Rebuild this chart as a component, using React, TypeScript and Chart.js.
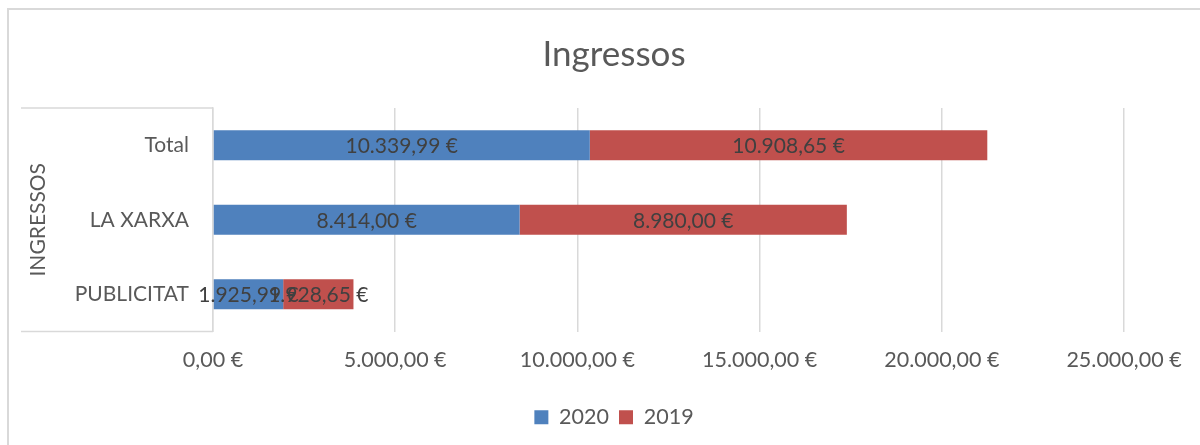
import React, { useEffect, useRef } from "react";
import { Chart, registerables } from "chart.js";

Chart.register(...registerables);

const categories = ["Total", "LA XARXA", "PUBLICITAT"];
const values2020 = [10339.99, 8414.0, 1925.99];
const values2019 = [10908.65, 8980.0, 1928.65];
const seriesLabels = ["2020", "2019"];
const xTicks = [0, 5000, 10000, 15000, 20000, 25000];
const groupLabel = "INGRESSOS";
const titleText = "Ingressos";

const FONT = "Lato, 'Open Sans', sans-serif";

function fmtEuro(v: number): string {
  const [i, d] = Math.abs(v).toFixed(2).split(".");
  const g = i.replace(/\B(?=(\d{3})+(?!\d))/g, ".");
  return (v < 0 ? "-" : "") + g + "," + d + " €";
}

const decorPlugin = {
  id: "decor",
  beforeDraw(chart: any) {
    const { ctx, chartArea } = chart;
    ctx.save();
    ctx.fillStyle = "#ffffff";
    ctx.fillRect(0, 0, chart.width, chart.height);
    ctx.strokeStyle = "#d9d9d9";
    ctx.lineWidth = 2;
    ctx.beginPath();
    ctx.moveTo(7, 9);
    ctx.lineTo(chart.width, 9);
    ctx.moveTo(8, 9);
    ctx.lineTo(8, chart.height);
    ctx.stroke();
    // group box
    ctx.lineWidth = 1.5;
    ctx.beginPath();
    ctx.moveTo(21, chartArea.top);
    ctx.lineTo(chartArea.left, chartArea.top);
    ctx.moveTo(21, chartArea.bottom);
    ctx.lineTo(chartArea.left, chartArea.bottom);
    ctx.stroke();
    ctx.restore();
  },
  afterDraw(chart: any) {
    const { ctx, chartArea } = chart;
    const yScale = chart.scales.y;
    ctx.save();
    ctx.fillStyle = "#595959";
    ctx.font = `21px ${FONT}`;
    ctx.textAlign = "right";
    ctx.textBaseline = "middle";
    chart.data.labels.forEach((lab: string, i: number) => {
      ctx.fillText(lab, chartArea.left - 24, yScale.getPixelForValue(i));
    });
    // rotated group label
    ctx.translate(38, (chartArea.top + chartArea.bottom) / 2);
    ctx.rotate(-Math.PI / 2);
    ctx.textAlign = "center";
    ctx.fillText(groupLabel, 0, 0);
    ctx.restore();
  },
};

const labelPlugin = {
  id: "barLabels",
  afterDatasetsDraw(chart: any) {
    const { ctx } = chart;
    ctx.save();
    ctx.font = `21px ${FONT}`;
    ctx.fillStyle = "#404040";
    ctx.textAlign = "center";
    ctx.textBaseline = "middle";
    chart.data.datasets.forEach((ds: any, di: number) => {
      const meta = chart.getDatasetMeta(di);
      meta.data.forEach((el: any, i: number) => {
        const x = (el.x + el.base) / 2;
        ctx.fillText(fmtEuro(ds.data[i]), x, el.y + 1);
      });
    });
    ctx.restore();
  },
};

export default function App() {
  const ref = useRef<HTMLCanvasElement | null>(null);
  useEffect(() => {
    if (!ref.current) return;
    const chart = new Chart(ref.current, {
      type: "bar",
      data: {
        labels: categories,
        datasets: [
          {
            label: seriesLabels[0],
            data: values2020,
            backgroundColor: "#4F81BD",
            barPercentage: 0.4,
            categoryPercentage: 1,
          },
          {
            label: seriesLabels[1],
            data: values2019,
            backgroundColor: "#C0504D",
            barPercentage: 0.4,
            categoryPercentage: 1,
          },
        ],
      },
      options: {
        indexAxis: "y",
        responsive: false,
        animation: false,
        layout: { padding: { left: 104, right: 76, top: 0, bottom: 7 } },
        scales: {
          x: {
            stacked: true,
            min: 0,
            max: 25000,
            afterBuildTicks: (scale: any) => {
              scale.ticks = xTicks.map((v) => ({ value: v }));
            },
            afterFit: (scale: any) => {
              scale.height = 65;
            },
            grid: { color: "#d9d9d9", lineWidth: 1.5, drawTicks: false },
            border: { display: false },
            ticks: {
              padding: 16,
              color: "#595959",
              font: { family: FONT, size: 21.5 },
              maxRotation: 0,
              callback: (v: any) => fmtEuro(Number(v)),
            },
          },
          y: {
            stacked: true,
            afterFit: (scale: any) => {
              scale.width = 109;
            },
            grid: { display: false, drawTicks: false },
            border: { display: true, color: "#d9d9d9", width: 1.5 },
            ticks: { display: false },
          },
        },
        plugins: {
          title: {
            display: true,
            text: titleText,
            color: "#595959",
            font: { family: FONT, size: 35, weight: "normal" },
            padding: { top: 34, bottom: 32 },
          },
          legend: {
            position: "bottom",
            labels: {
              color: "#595959",
              font: { family: FONT, size: 21.5 },
              boxWidth: 14,
              boxHeight: 14,
              padding: 10,
            },
          },
          tooltip: { enabled: false },
        },
      },
      plugins: [decorPlugin, labelPlugin],
    } as any);
    return () => chart.destroy();
  }, []);
  return (
    <div style={{ position: "fixed", left: 0, top: 0, width: 1200, height: 445, background: "#fff" }}>
      <canvas ref={ref} width={1200} height={445} style={{ display: "block" }} />
    </div>
  );
}
